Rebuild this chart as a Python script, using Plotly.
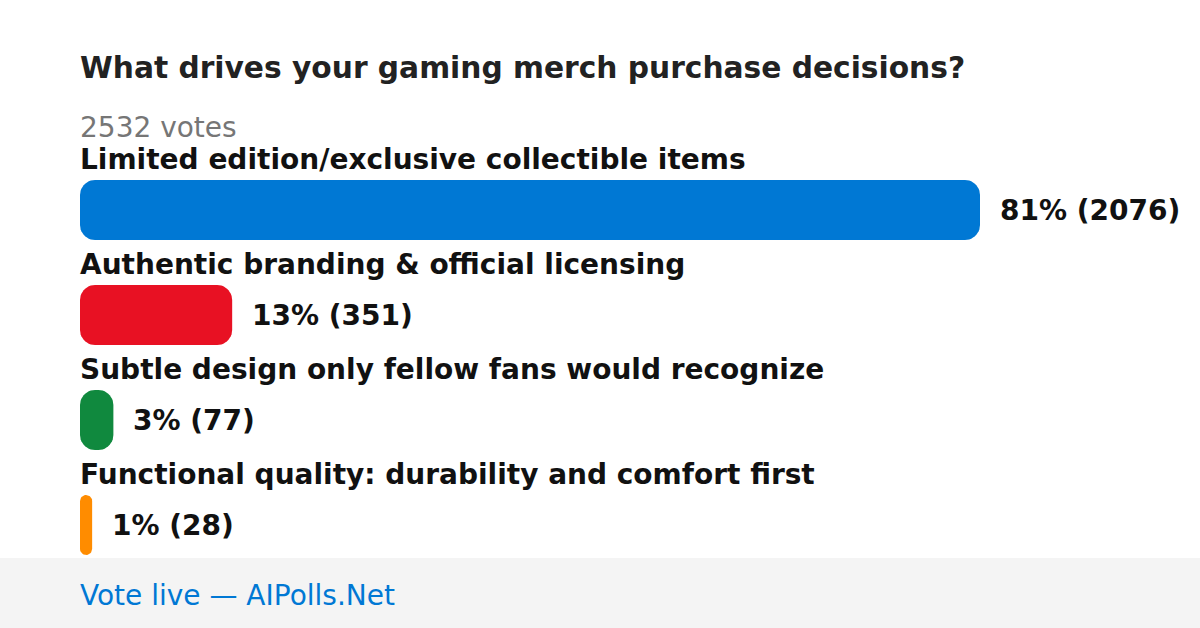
import numpy as np
import plotly.graph_objects as go

title = "What drives your gaming merch purchase decisions?"
total_votes = 2532
options = [
    "Limited edition/exclusive collectible items",
    "Authentic branding & official licensing",
    "Subtle design only fellow fans would recognize",
    "Functional quality: durability and comfort first",
]
votes = [2076, 351, 77, 28]
percents = [81, 13, 3, 1]
colors = ["#0078d4", "#e81123", "#10893e", "#ff8c00"]

W, H = 1200, 628
left = 80
bar_px_max = 900
row_px = 105
first_bar_px = 210
bar_h_px = 60
label_off_px = 51
radius_px = 15

vmax = max(votes)
plot_w = W - left
xmax = vmax * plot_w / bar_px_max
y_top = -first_bar_px / row_px
y_bot = (H - first_bar_px) / row_px
sx = bar_px_max / vmax  # px per vote
sy = row_px             # px per row unit


def rounded_bar(v, yc):
    """Rounded-rectangle outline in data units for a bar from 0 to v."""
    length_px = v * sx
    r = min(radius_px, length_px / 2, bar_h_px / 2)
    rx, ry = r / sx, r / sy
    hh = bar_h_px / 2 / sy
    x0, x1 = 0.0, v
    y0, y1 = yc - hh, yc + hh
    xs, ys = [], []
    corners = [
        (x1 - rx, y0 + ry, -np.pi / 2, 0),
        (x1 - rx, y1 - ry, 0, np.pi / 2),
        (x0 + rx, y1 - ry, np.pi / 2, np.pi),
        (x0 + rx, y0 + ry, np.pi, 1.5 * np.pi),
    ]
    for cx, cy, a0, a1 in corners:
        t = np.linspace(a0, a1, 12)
        xs.extend(cx + rx * np.cos(t))
        ys.extend(cy + ry * np.sin(t))
    xs.append(xs[0])
    ys.append(ys[0])
    return xs, ys


fig = go.Figure()
font_family = "DejaVu Sans"
for i, (opt, v, p, c) in enumerate(zip(options, votes, percents, colors)):
    bx, by = rounded_bar(v, i)
    fig.add_trace(go.Scatter(
        x=bx, y=by, mode="lines", fill="toself", fillcolor=c,
        line=dict(width=0, color=c), hoverinfo="skip", showlegend=False,
    ))
    fig.add_annotation(
        x=0, y=i - label_off_px / row_px, xref="x", yref="y", xshift=-2,
        text=f"<b>{opt}</b>", showarrow=False, xanchor="left", yanchor="middle",
        font=dict(family=font_family, size=28, color="#111111"),
    )
    fig.add_annotation(
        x=v, y=i, xref="x", yref="y", xshift=18,
        text=f"<b>{p}% ({v})</b>", showarrow=False, xanchor="left", yanchor="middle",
        font=dict(family=font_family, size=28, color="#111111"),
    )

fig.add_annotation(
    x=0, y=1 - 68 / H, xref="paper", yref="paper", xshift=-2,
    text=f"<b>{title}</b>", showarrow=False, xanchor="left", yanchor="middle",
    font=dict(family=font_family, size=29.7, color="#222222"),
)
fig.add_annotation(
    x=0, y=1 - 127 / H, xref="paper", yref="paper", xshift=-2,
    text=f"{total_votes} votes", showarrow=False, xanchor="left", yanchor="middle",
    font=dict(family=font_family, size=28, color="#767676"),
)

fig.add_shape(type="rect", xref="paper", yref="paper", x0=-0.2, x1=1.1,
              y0=-0.1, y1=70 / H, fillcolor="#f4f4f4", line=dict(width=0), layer="above")
fig.add_annotation(
    x=0, y=1 - 595 / H, xref="paper", yref="paper", xshift=-2,
    text="Vote live — AIPolls.Net", showarrow=False, xanchor="left", yanchor="middle",
    font=dict(family=font_family, size=28, color="#0078d4"),
)

fig.update_layout(
    width=W, height=H,
    margin=dict(l=left, r=0, t=0, b=0),
    paper_bgcolor="white", plot_bgcolor="white",
    xaxis=dict(range=[0, xmax], visible=False, fixedrange=True),
    yaxis=dict(range=[y_bot, y_top], visible=False, fixedrange=True),
    showlegend=False,
)
fig.write_html(
    "out.html",
    config={"displayModeBar": False},
    post_script="document.body.style.margin='0';document.body.style.overflow='hidden';",
)
